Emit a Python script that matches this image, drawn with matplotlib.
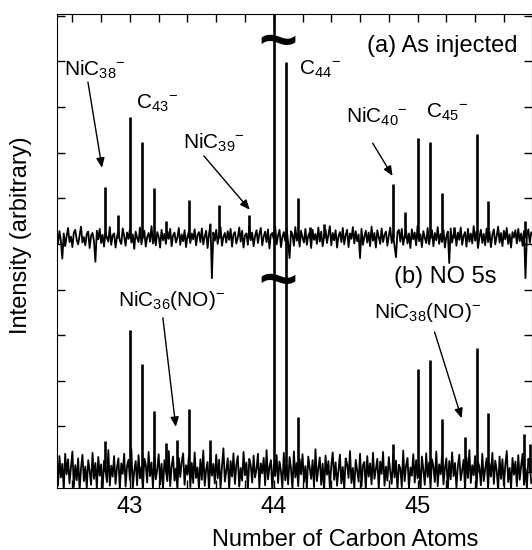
import numpy as np
import matplotlib
matplotlib.use('Agg')
import matplotlib.pyplot as plt
from matplotlib.ticker import MultipleLocator

plt.rcParams['font.family'] = ['Liberation Sans', 'DejaVu Sans']
plt.rcParams['mathtext.fontset'] = 'custom'
plt.rcParams['mathtext.rm'] = 'Liberation Sans'
plt.rcParams['mathtext.it'] = 'Liberation Sans:italic'
plt.rcParams['mathtext.default'] = 'rm'

# sampling grid of the baseline noise
x_start = 42.49
x_step = 0.01

# (a) as injected - baseline noise (arbitrary counts)
noise_a = [
    8, -12, 15, -6, -45, 10, -18, 4, 22, -9, 3, -20, 12, 18, -4, -14, 6, 25, -10, 2,
    -16, 9, 14, -22, 5, 11, -7, -52, 16, -3, 20, -11, 7, -19, 13, 1, -8, 24, -15, 6,
    10, -21, 3, 17, -6, -13, 21, 4, -17, 12, -2, 19, -10, 8, -24, 14, 0, -9, 23, -14,
    5, 16, -19, 2, 11, -8, 26, -12, 7, -16, 13, 3, -21, 18, -5, 9, -13, 15, -2, 20,
    -18, 6, 12, -10, 1, 22, -15, 8, -7, 17, -20, 4, 14, -11, 10, -3, 19, -16, 7, 13,
    -9, 21, -14, 3, 16, -22, 9, 30, -88, 12, -6, 18, -13, 5, 24, -17, 2, 11, -10, 15,
    -4, 20, -19, 8, 13, -12, 1, 23, -8, 16, -21, 6, 10, -15, 27, -5, 12, -18, 4, 17,
    -11, 9, 22, -16, 3, 14, -9, 19, -23, 7, 11, -3, 25, -14, 6, 18, -20, 2, 13, -7,
    21, -12, -44, 15, 8, -17, 24, -6, 10, -19, 16, 1, -10, 20, -15, 5, 12, -22, 18, -4,
    9, -13, 23, -8, 14, -18, 3, 19, -11, 7, 26, -16, 11, -5, 17, -21, 4, 13, -9, 22,
    -14, 6, 18, -20, 10, -2, 24, -12, 15, -7, 8, -44, 20, -15, 3, 16, -10, 12, -18, 25,
    -6, 11, -21, 17, 2, -13, 21, -9, 7, 14, -17, 5, 23, -11, 9, -19, -42, 13, 18, -8,
    20, -15, 4, 16, -12, 10, -22, 19, -3, 12, -16, 27, -7, 8, -20, 15, 1, -11, 22, -14,
    6, 17, -18, 11, -5, 24, -13, 9, -9, 18, -21, 3, 14, -55, 21, -10, 7, 16, -17, 12,
    -4, 23, -15, 5, 13, -19, 20, -8, 10, -12, 26, -6, 15, -22, 2, 18, -11, 9, -16, 21,
    -9, 14, -20, 7, 19, -14, 4, 25, -10, 11, -18, 16, -3, 22, -13, 8, -21, 13, 1, 17,
    -12, 20, -7, 10, -17, 15, -88, 6, 19, -11, 12,
]

# (b) NO 5s - baseline noise
noise_b = [
    22, -30, 35, -12, 18, -38, 40, -5, 28, -25, 10, 45, -33, 15, -18, 30, -40, 8, 38, -20,
    12, -35, 26, 3, -28, 42, -15, 20, -36, 33, -8, 17, -42, 25, 6, -22, 48, -30, 14, -10,
    35, -26, 9, 30, -38, 19, -4, 40, -32, 13, 27, -18, 50, -35, 2, 24, -29, 37, -14, 11,
    -40, 29, 16, -23, 44, -9, 21, -34, 32, -16, 7, 39, -27, 18, -37, 26, 4, -20, 46, -31,
    13, 34, -19, 8, -39, 31, -11, 23, 41, -28, 15, -6, 36, -33, 20, -24, 43, -13, 10, -36,
    28, -17, 47, -30, 5, 22, -41, 33, -8, 18, -25, 38, -14, 27, -35, 12, 52, -21, 3, 30,
    -37, 24, -10, 41, -26, 16, 35, -32, 9, -19, 44, -7, 21, -38, 29, 14, -23, 36, -12, 6,
    40, -34, 19, -3, 31, -29, 48, -16, 11, 26, -40, 17, -9, 37, -24, 23, 2, -35, 42, -18,
    15, -27, 33, 7, -39, 45, -12, 20, -31, 28, -5, 39, -22, 13, -36, 34, 10, -15, 26, -33,
    50, -20, 8, 32, -28, 18, -41, 36, -6, 24, -34, 14, 43, -17, 21, -30, 4, 38, -25, 11,
    -38, 30, 17, -13, 46, -24, 9, -35, 27, 3, -21, 40, -32, 15, 22, -40, 35, -10, 19, -27,
    42, -15, 6, 29, -37, 23, -4, 44, -30, 12, -19, 33, 1, -26, 37, -12, 25, -39, 16, 8,
    -33, 47, -20, 14, 31, -36, 10, -8, 39, -23, 26, -14, 18, -42, 34, 5, -28, 41, -11, 21,
    -35, 28, 12, -22, 45, -31, 17, -5, 36, -27, 9, 30, -40, 24, -16, 43, -9, 20, -34, 13,
    38, -18, 4, 27, -38, 32, -13, 48, -24, 15, -7, 35, -33, 22, 11, -29, 40, -20, 7, 30,
    -36, 19, -10, 42, -26, 25, 3, -39, 34, -15, 28, -30, 16, 46, -22, 9, -37, 31, -6, 23,
    -31, 37, -17, 14, 40, -28, 8, -35, 29, 18, -24,
]

offset_a = 513  # vertical shift of spectrum (a)

# peak positions (carbon atom number = mass / 12) and heights above baseline
peaks_a_x = [42.83, 42.917, 43.0, 43.083, 43.167, 43.25, 43.41, 43.62, 43.83,
             44.0, 44.083, 44.167, 44.25, 44.347, 44.83, 44.91, 45.0, 45.083,
             45.167, 45.25, 45.41, 45.493, 45.748]
peaks_a_h = [112, 50, 265, 210, 110, 37, 83, 72, 50,
             1200, 386, 88, 24, 31, 118, 57, 219, 210,
             99, 24, 228, 81, 37]

peaks_b_x = [42.83, 43.0, 43.083, 43.167, 43.25, 43.33, 43.41, 43.556,
             44.0, 44.083, 44.167, 44.83, 45.0, 45.083, 45.167, 45.33,
             45.41, 45.493, 45.743, 45.785]
peaks_b_h = [68, 311, 237, 134, 64, 70, 138, 70,
             520, 520, 121, 61, 226, 246, 116, 77,
             272, 129, 83, 61]

fig = plt.figure(figsize=(5.32, 5.5), dpi=100)
ax = fig.add_axes([57 / 532, 62 / 550, 474.5 / 532, 474 / 550])

xs = x_start + x_step * np.arange(len(noise_a))
ax.plot(xs, offset_a + np.array(noise_a), color='k', lw=1.3)
ax.vlines(peaks_a_x, offset_a, offset_a + np.array(peaks_a_h), color='k', lw=1.9)

xs_b = x_start + x_step * np.arange(len(noise_b))
ax.plot(xs_b, noise_b, color='k', lw=1.3)
ax.vlines(peaks_b_x, 0, peaks_b_h, color='k', lw=1.9)

ax.set_xlim(42.493, 45.792)
ax.set_ylim(-35, 1004)
ax.set_xticks([43, 44, 45])
ax.xaxis.set_minor_locator(MultipleLocator(0.2))
ax.set_yticks(np.arange(0, 1001, 100))
ax.set_yticklabels([])
ax.tick_params(axis='both', which='both', direction='in', top=True, right=True,
               length=6, width=1, labelsize=17, pad=6)

ax.set_xlabel('Number of Carbon Atoms', fontsize=17)
ax.xaxis.set_label_coords(0.608, -0.086)
ax.set_ylabel('Intensity (arbitrary)', fontsize=17)
ax.yaxis.set_label_coords(-0.052, 0.534)

# axis break marks on the off-scale C44 peak
for by in [935, 412]:
    ax.text(44.031, by, '~', fontsize=48, fontweight='bold', ha='center', va='center')

ax.text(45.174, 934, '(a) As injected', fontsize=17, ha='center', va='center')
ax.text(45.194, 428, '(b) NO 5s', fontsize=17, ha='center', va='center')

labels = [
    ('NiC$_{38}{}^{-}$', 42.757, 882, (42.708, 855), (42.806, 667)),
    ('C$_{43}{}^{-}$', 43.1875, 809, None, None),
    ('NiC$_{39}{}^{-}$', 43.583, 721, (43.514, 693), (43.833, 575)),
    ('C$_{44}{}^{-}$', 44.319, 882, None, None),
    ('NiC$_{40}{}^{-}$', 44.715, 778, (44.6875, 721), (44.826, 649)),
    ('C$_{45}{}^{-}$', 45.208, 789, None, None),
    ('NiC$_{38}$(NO)$^{-}$', 45.069, 349, (45.118, 307), (45.306, 118)),
    ('NiC$_{36}$(NO)$^{-}$', 43.292, 377, (43.229, 338), (43.319, 99)),
]
for txt, tx, ty, start, end in labels:
    ax.text(tx, ty, txt, fontsize=15, ha='center', va='center')
    if start is not None:
        ax.annotate('', xy=end, xytext=start,
                    arrowprops=dict(arrowstyle='-|>,head_length=0.58,head_width=0.25',
                                    color='k', lw=1, shrinkA=0, shrinkB=0,
                                    mutation_scale=10))

fig.savefig('out.png', dpi=100)
